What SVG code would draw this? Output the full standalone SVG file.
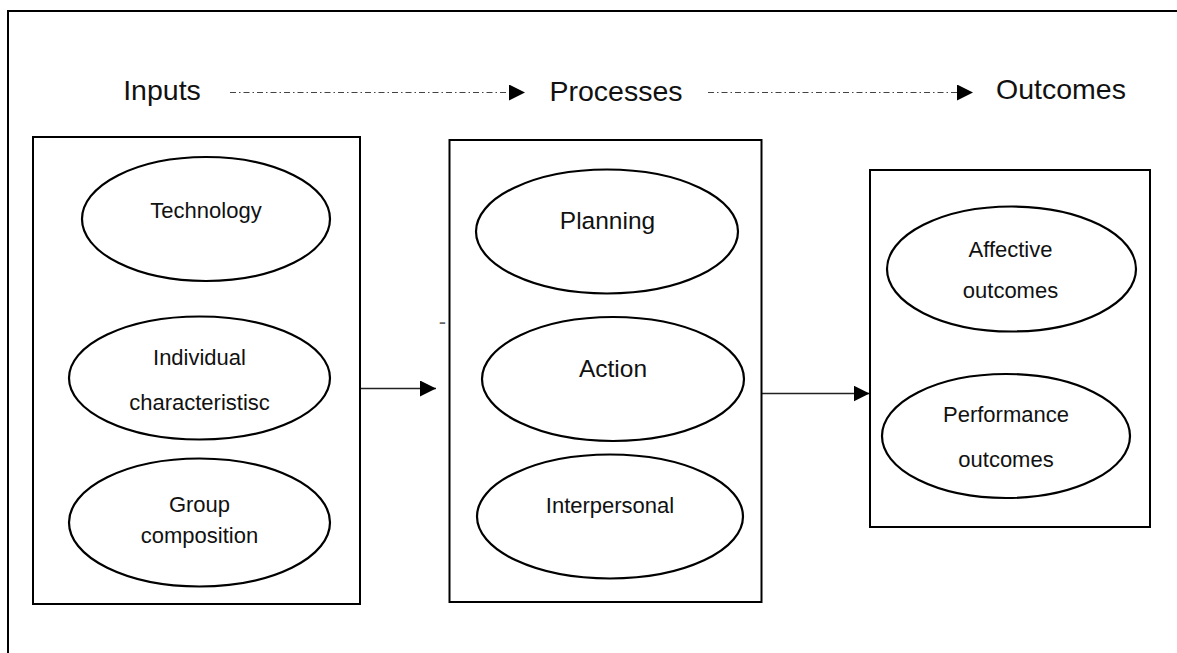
<svg xmlns="http://www.w3.org/2000/svg" width="1177" height="653" viewBox="0 0 1177 653">
  <style>
    .frame { fill: none; stroke: #000; stroke-width: 2; }
    .box { fill: #fff; stroke: #000; stroke-width: 2; }
    .oval { fill: #fff; stroke: #000; stroke-width: 2.2; }
    .head { font-family: "Liberation Sans", Arial, sans-serif; font-size: 28.5px; fill: #111; text-anchor: middle; }
    .lbl { font-family: "Liberation Sans", Arial, sans-serif; font-size: 22px; fill: #111; text-anchor: middle; }
    .lbl-big { font-family: "Liberation Sans", Arial, sans-serif; font-size: 24.5px; fill: #111; text-anchor: middle; }
    .flow { fill: none; stroke: #444; stroke-width: 1.2; stroke-dasharray: 6 3 1.5 3; }
    .link { fill: none; stroke: #222; stroke-width: 1.3; }
  </style>
  <defs>
    <marker id="tri" viewBox="0 0 16 16" refX="16" refY="8" markerWidth="16" markerHeight="16" markerUnits="userSpaceOnUse" orient="auto">
      <path d="M0,0 L16,8 L0,16 Z" fill="#000"/>
    </marker>
  </defs>

  <rect fill="#fff" x="0" y="0" width="1177" height="653"/>

  <!-- outer frame running off the right and bottom edges -->
  <rect class="frame" x="8" y="11" width="1190" height="670"/>

  <!-- stage headings -->
  <g id="headings">
    <text class="head" x="162" y="100">Inputs</text>
    <text class="head" x="616" y="101">Processes</text>
    <text class="head" x="1061" y="99">Outcomes</text>
  </g>

  <!-- connectors -->
  <g id="connectors">
    <line class="flow" x1="230" y1="92.5" x2="525" y2="92.5" marker-end="url(#tri)"/>
    <line class="flow" x1="708" y1="92.5" x2="973" y2="92.5" marker-end="url(#tri)"/>
    <line class="link" x1="360" y1="388.5" x2="436" y2="388.5" marker-end="url(#tri)"/>
    <line class="link" x1="762" y1="393.5" x2="869.5" y2="393.5" marker-end="url(#tri)"/>
  </g>

  <!-- stray hyphen beside the processes box -->
  <text x="442.5" y="329" font-family="Liberation Sans, Arial, sans-serif" font-size="22" fill="#666" text-anchor="middle">-</text>

  <!-- inputs -->
  <g id="inputs">
    <rect class="box" x="33" y="137" width="327" height="467"/>
    <g id="technology">
      <ellipse class="oval" cx="206" cy="219" rx="124" ry="62"/>
      <text class="lbl" x="206" y="218">Technology</text>
    </g>
    <g id="individual">
      <ellipse class="oval" cx="199.5" cy="378" rx="130.5" ry="61.5"/>
      <text class="lbl" x="199.5" y="365">Individual</text>
      <text class="lbl" x="199.5" y="410">characteristisc</text>
    </g>
    <g id="group">
      <ellipse class="oval" cx="199.5" cy="522.5" rx="130.5" ry="64"/>
      <text class="lbl" x="199.5" y="512">Group</text>
      <text class="lbl" x="199.5" y="543">composition</text>
    </g>
  </g>

  <!-- processes -->
  <g id="processes">
    <rect class="box" x="449.5" y="140" width="312" height="462"/>
    <g id="planning">
      <ellipse class="oval" cx="607" cy="231.5" rx="131" ry="62"/>
      <text class="lbl-big" x="607.5" y="229">Planning</text>
    </g>
    <g id="action">
      <ellipse class="oval" cx="613" cy="379" rx="131" ry="62"/>
      <text class="lbl-big" x="613" y="377">Action</text>
    </g>
    <g id="interpersonal">
      <ellipse class="oval" cx="610" cy="516.5" rx="133" ry="62"/>
      <text class="lbl" x="610" y="513">Interpersonal</text>
    </g>
  </g>

  <!-- outcomes -->
  <g id="outcomes">
    <rect class="box" x="870" y="170" width="280" height="357"/>
    <g id="affective">
      <ellipse class="oval" cx="1011.5" cy="269" rx="124.5" ry="62.5"/>
      <text class="lbl" x="1010.5" y="257">Affective</text>
      <text class="lbl" x="1010.5" y="298">outcomes</text>
    </g>
    <g id="performance">
      <ellipse class="oval" cx="1006" cy="436" rx="124" ry="62"/>
      <text class="lbl" x="1006" y="421.5">Performance</text>
      <text class="lbl" x="1006" y="466.5">outcomes</text>
    </g>
  </g>
</svg>
